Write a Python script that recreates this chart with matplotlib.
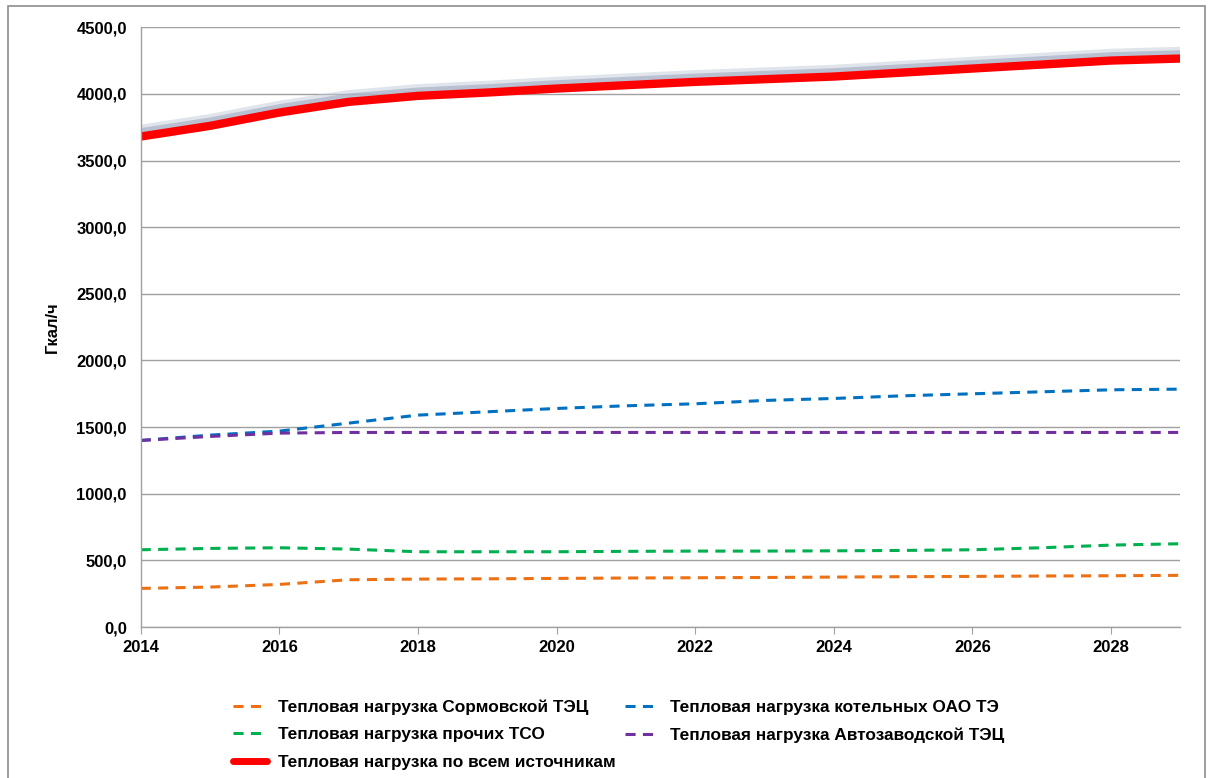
import matplotlib
matplotlib.use('Agg')
import matplotlib.pyplot as plt
import matplotlib.patheffects as pe
from matplotlib.lines import Line2D
from matplotlib.patches import Rectangle
from matplotlib.ticker import FuncFormatter

plt.rcParams['font.family'] = ['Liberation Sans', 'DejaVu Sans']

# Data (Gcal/h per year)
years = list(range(2014, 2030))
sormovo = [290, 300, 320, 355, 360, 362, 365, 368, 370, 372, 375, 378, 380, 383, 385, 388]
boilers = [1400, 1440, 1470, 1530, 1590, 1615, 1640, 1660, 1675, 1700, 1715, 1735, 1750, 1765, 1780, 1785]
other_tso = [580, 590, 595, 585, 565, 565, 565, 568, 570, 570, 572, 575, 580, 595, 615, 625]
avtozavod = [1400, 1430, 1455, 1460, 1460, 1460, 1460, 1460, 1460, 1460, 1460, 1460, 1460, 1460, 1460, 1460]
total = [3680, 3760, 3860, 3940, 3985, 4010, 4040, 4065, 4090, 4110, 4130, 4160, 4190, 4220, 4250, 4265]

labels = ['Тепловая нагрузка Сормовской ТЭЦ',
          'Тепловая нагрузка котельных ОАО ТЭ',
          'Тепловая нагрузка прочих ТСО',
          'Тепловая нагрузка Автозаводской ТЭЦ',
          'Тепловая нагрузка по всем источникам']
colors = ['#EC7014', '#0070C0', '#00B050', '#7030A0', '#FF0000']

fig = plt.figure(figsize=(12.13, 7.78), dpi=100)
fig.patches.append(Rectangle((0.007, -0.01), 0.986, 1.002, transform=fig.transFigure,
                             fill=False, edgecolor='#8c8c8c', linewidth=1.2))
ax = fig.add_axes([0.116, 0.194, 0.857, 0.771])

dash = (3.3, 2.4)
l1, = ax.plot(years, sormovo, color=colors[0], lw=2.2, dashes=dash)
l2, = ax.plot(years, boilers, color=colors[1], lw=2.2, dashes=dash)
l3, = ax.plot(years, other_tso, color=colors[2], lw=2.2, dashes=dash)
l4, = ax.plot(years, avtozavod, color=colors[3], lw=2.2, dashes=dash)
ax.plot(years, total, color=colors[4], lw=6, solid_capstyle='butt',
        path_effects=[pe.SimpleLineShadow(offset=(0, 3), shadow_color='#c3cad8', alpha=0.5, linewidth=11),
                      pe.SimpleLineShadow(offset=(0, 2.5), shadow_color='#a7b1c6', alpha=0.7, linewidth=7),
                      pe.Normal()])
l5 = Line2D([], [], color=colors[4], lw=5, solid_capstyle='round')

ax.set_xlim(2014, 2029)
ax.set_ylim(0, 4500)
ax.set_xticks(range(2014, 2029, 2))
ax.set_yticks(range(0, 4501, 500))
ax.yaxis.set_major_formatter(FuncFormatter(lambda v, p: f"{v:.1f}".replace('.', ',')))
ax.grid(axis='y', color='#a0a0a0', linewidth=1)
ax.set_axisbelow(True)
for s in ['top', 'right']:
    ax.spines[s].set_visible(False)
for s in ['left', 'bottom']:
    ax.spines[s].set_color('#a0a0a0')
    ax.spines[s].set_linewidth(1)
ax.tick_params(axis='y', length=0, pad=10, labelsize=12)
ax.tick_params(axis='x', length=5, color='#a0a0a0', pad=4, labelsize=12)
for t in ax.get_xticklabels() + ax.get_yticklabels():
    t.set_fontweight('bold')
ax.set_ylabel('Гкал/ч', fontsize=12, fontweight='bold', labelpad=12)

fig.legend([l1, l3, l5, l2, l4], [labels[0], labels[2], labels[4], labels[1], labels[3]],
           ncol=2, loc='upper left', bbox_to_anchor=(0.186, 0.11), frameon=False,
           prop={'weight': 'bold', 'size': 12.4}, handlelength=2.0, columnspacing=0.5,
           labelspacing=0.72, handletextpad=0.65, borderaxespad=0)

fig.savefig('out.png', dpi=100)
